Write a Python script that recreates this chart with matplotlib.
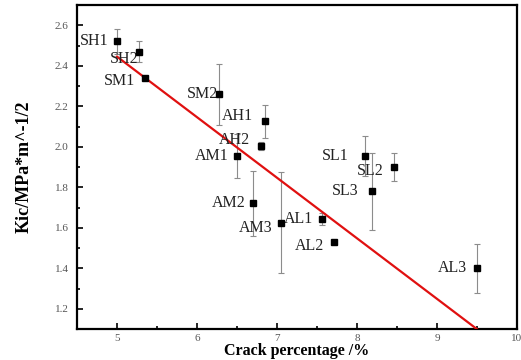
import numpy as np
import matplotlib.pyplot as plt
from matplotlib.ticker import MultipleLocator

# data
labels = ["SH1", "SH2", "SM1", "SM2", "AH1", "AH2", "AM1", "AM2", "AM3",
          "AL1", "AL2", "AL3", "SL1", "SL2", "SL3"]
crack = [5.00, 5.28, 5.35, 6.27, 6.85, 6.80, 6.50, 6.70, 7.05,
         7.56, 7.71, 9.50, 8.10, 8.46, 8.19]
kic = [2.52, 2.47, 2.34, 2.26, 2.125, 2.005, 1.955, 1.72, 1.625,
       1.645, 1.53, 1.40, 1.955, 1.90, 1.78]
kic_err = [0.06, 0.05, 0.01, 0.15, 0.08, 0.02, 0.11, 0.16, 0.25,
           0.03, 0.01, 0.12, 0.10, 0.07, 0.19]

# fitted line end points
fit_x = [5.0, 9.5]
fit_y = [2.445, 1.10]

# label offsets (points): right edge of text relative to marker
offsets = {"SH1": (-3, 0), "SH2": (2, -5), "SM1": (-4, -2), "SM2": (3, 0),
           "AH1": (-6, 4), "AH2": (-5, 4), "AM1": (-3, 0), "AM2": (-2, 0),
           "AM3": (-3, -4), "AL1": (-3, 0), "AL2": (-4, -3), "AL3": (-4, 0),
           "SL1": (-9, 0), "SL2": (-4, -3), "SL3": (-7, 0)}

plt.rcParams['font.family'] = ['Liberation Serif', 'DejaVu Serif']

fig = plt.figure(figsize=(5.21, 3.6), dpi=100)
ax = fig.add_axes([0.148, 0.086, 0.844, 0.9])

ax.errorbar(crack, kic, yerr=kic_err, fmt='none', ecolor='#8c8c8c',
            elinewidth=0.8, capsize=2.5, capthick=0.8, zorder=2)
ax.plot(crack, kic, 's', color='black', markersize=5, zorder=4)
ax.plot(fit_x, fit_y, color='#e01010', linewidth=1.6, zorder=3)

for name, x, y in zip(labels, crack, kic):
    dx, dy = offsets[name]
    ax.annotate(name, (x, y), xytext=(dx - 3, dy), textcoords='offset points',
                ha='right', va='center', fontsize=11.5, color='#222222')

ax.set_xlim(4.5, 10)
ax.set_ylim(1.1, 2.7)
ax.set_xticks([5, 6, 7, 8, 9, 10])
ax.set_yticks([1.2, 1.4, 1.6, 1.8, 2.0, 2.2, 2.4, 2.6])
ax.xaxis.set_minor_locator(MultipleLocator(0.5))
ax.yaxis.set_minor_locator(MultipleLocator(0.1))
ax.tick_params(which='both', direction='in', top=False, right=False,
               width=1.2, labelsize=8, labelcolor='#555555')
ax.tick_params(which='major', length=4)
ax.tick_params(axis='y', pad=6)
ax.tick_params(axis='x', pad=3.5)
ax.tick_params(which='minor', length=2.5)
for s in ax.spines.values():
    s.set_linewidth(1.6)

ax.set_xlabel("Crack percentage /%", fontsize=11.5, fontweight='bold', labelpad=0)
ax.set_ylabel("Kic/MPa*m^-1/2", fontsize=13, fontweight='bold', labelpad=16)

fig.savefig("out.png", dpi=100)
